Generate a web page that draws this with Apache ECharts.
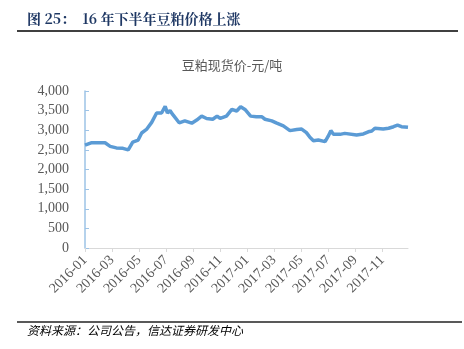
<!DOCTYPE html>
<html><head><meta charset="utf-8">
<script src="https://cdn.jsdelivr.net/npm/echarts@6/dist/echarts.min.js"></script>
<style>html,body{margin:0;padding:0;background:#fff}#c{width:464px;height:349px}</style>
</head><body><div id="c"></div>
<script>
const dates = ['2016-01-01','2016-01-15','2016-02-15','2016-02-26','2016-03-11','2016-03-26','2016-04-07','2016-04-17','2016-04-29','2016-05-07','2016-05-18','2016-05-30','2016-06-10','2016-06-21','2016-06-29','2016-07-04','2016-07-10','2016-07-17','2016-07-31','2016-08-13','2016-08-17','2016-08-29','2016-09-09','2016-09-20','2016-10-01','2016-10-15','2016-10-25','2016-11-01','2016-11-15','2016-11-27','2016-12-08','2016-12-17','2016-12-27','2017-01-09','2017-01-22','2017-02-03','2017-02-10','2017-02-24','2017-03-07','2017-03-22','2017-04-06','2017-04-21','2017-05-02','2017-05-13','2017-05-21','2017-05-29','2017-06-09','2017-06-24','2017-07-01','2017-07-07','2017-07-13','2017-07-28','2017-08-08','2017-08-12','2017-09-04','2017-09-19','2017-09-30','2017-10-08','2017-10-15','2017-11-03','2017-11-15','2017-11-26','2017-12-05','2017-12-14','2017-12-29'];
const prices = [2620,2680,2680,2590,2550,2540,2500,2700,2750,2930,3020,3200,3440,3440,3610,3440,3500,3390,3190,3240,3260,3180,3260,3360,3300,3280,3360,3300,3360,3530,3490,3600,3530,3360,3345,3345,3280,3240,3180,3110,2990,3020,3030,2940,2820,2735,2750,2710,2850,2990,2900,2895,2920,2890,2880,2905,2960,2980,3050,3030,3050,3090,3130,3090,3075];
const yTicks = [0,500,1000,1500,2000,2500,3000,3500,4000];
const xTickLabels = ['2016-01','2016-03','2016-05','2016-07','2016-09','2016-11','2017-01','2017-03','2017-05','2017-07','2017-09','2017-11'];

function monthPos(s){
  const [y,m,d] = s.split('-').map(Number);
  const dim = new Date(y, m, 0).getDate();
  return (y-2016)*12 + (m-1) + (d-1)/dim;
}
const seriesData = dates.map((d,i)=>[monthPos(d), prices[i]]);

const chart = echarts.init(document.getElementById('c'));
chart.setOption({
  animation:false,
  title:{text:'豆粕现货价-元/吨', left:'center', top:54,
    textStyle:{fontFamily:'Noto Sans CJK SC', fontSize:13, fontWeight:'normal', color:'#595959'}},
  grid:{left:85, right:56, top:91, bottom:101},
  xAxis:{type:'value', min:0, max:monthPos(dates[dates.length-1]), interval:2,
    axisLine:{show:true, lineStyle:{color:'#D9D9D9', width:1}},
    axisTick:{show:true, length:4, lineStyle:{color:'#D9D9D9'}},
    splitLine:{show:false},
    axisLabel:{rotate:45, margin:10, color:'#595959', fontFamily:'Liberation Serif', fontSize:14,
      showMaxLabel:false,
      formatter:(v)=>{const i=Math.round(v/2); return xTickLabels[i]||'';}}
  },
  yAxis:{type:'value', min:yTicks[0], max:yTicks[yTicks.length-1], interval:500,
    axisLine:{show:true, lineStyle:{color:'#9DC3E6', width:1.5}},
    axisTick:{show:true, inside:true, length:4, lineStyle:{color:'#9DC3E6'}},
    splitLine:{show:false},
    axisLabel:{margin:16, color:'#595959', fontFamily:'Liberation Serif', fontSize:14,
      formatter:(v)=>v.toLocaleString('en-US')}
  },
  series:[{type:'line', data:seriesData, showSymbol:false, smooth:false,
    lineStyle:{color:'#5B9BD5', width:3.5}}],
  graphic:[
    {type:'text', left:27, top:12, style:{text:'图 25：  16 年下半年豆粕价格上涨', fill:'#1F3864',
      font:'bold 14px "Noto Serif CJK SC","Noto Sans CJK SC",serif'}},
    {type:'rect', shape:{x:17, y:30, width:441, height:2}, style:{fill:'#404040'}},
    {type:'rect', shape:{x:17, y:321, width:445, height:2}, style:{fill:'#595959'}},
    {type:'text', left:27, top:324, style:{text:'资料来源：公司公告，信达证券研发中心', fill:'#000',
      font:'italic 12px "Noto Sans CJK SC",sans-serif'}}
  ]
});
</script></body></html>
